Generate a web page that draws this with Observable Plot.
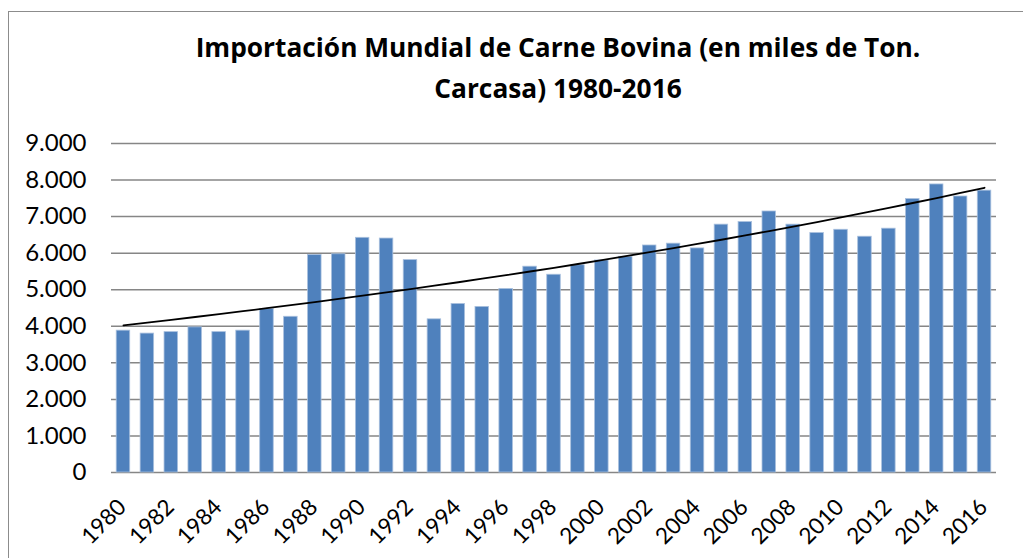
<!DOCTYPE html>
<html>
<head>
<meta charset="utf-8">
<script src="https://cdn.jsdelivr.net/npm/d3@7"></script>
<script src="https://cdn.jsdelivr.net/npm/@observablehq/plot@0.6"></script>
<style>
  html, body { margin: 0; padding: 0; background: #fff; }
  #wrap { position: relative; width: 1023px; height: 558px; overflow: hidden; font-family: Lato, "Open Sans", sans-serif; }
  #frame { position: absolute; left: 8px; top: 11px; width: 1100px; height: 700px; border: 1px solid #8c8c8c; box-sizing: border-box; }
  #title { position: absolute; left: 0; top: 27px; width: 1116px; text-align: center; font-family: "Open Sans", sans-serif; font-weight: 700; font-size: 26.3px; line-height: 41px; color: #000; }
  #chart { position: absolute; left: 0; top: 115px; }
</style>
</head>
<body>
<div id="wrap">
  <div id="frame"></div>
  <div id="title">Importación Mundial de Carne Bovina (en miles de Ton.<br>Carcasa) 1980-2016</div>
  <div id="chart"></div>
</div>
<script>
const years = d3.range(1980, 2017);
const imports = [3880, 3800, 3840, 3970, 3840, 3880, 4470, 4260, 5950, 5970, 6420, 6400, 5810,
  4190, 4610, 4530, 5020, 5630, 5410, 5670, 5800, 5900, 6210, 6260, 6130, 6780, 6850, 7140,
  6780, 6550, 6640, 6450, 6670, 7480, 7880, 7550, 7710];
const yTicks = [0, 1000, 2000, 3000, 4000, 5000, 6000, 7000, 8000, 9000];
const xTickLabels = years.filter(y => (y - 1980) % 2 === 0);

const data = years.map((year, i) => ({year, value: imports[i]}));

// Exponential trendline (least squares on ln(value)), as a spreadsheet would compute it
const xs = data.map((d, i) => i);
const ls = data.map(d => Math.log(d.value));
const mx = d3.mean(xs), ml = d3.mean(ls);
const b = d3.sum(xs, (x, i) => (x - mx) * (ls[i] - ml)) / d3.sum(xs, x => (x - mx) ** 2);
const a = ml - b * mx;
const trend = data.map((d, i) => ({year: d.year, value: Math.exp(a + b * i)}));

const fmt = v => v === 0 ? "0" : d3.format(",")(v).replace(/,/g, ".");

const chart = Plot.plot({
  width: 1023,
  height: 443,
  marginLeft: 111,
  marginRight: 27,
  marginTop: 28,
  marginBottom: 86,
  style: {fontFamily: "Lato, 'Open Sans', sans-serif", fontSize: "18px", color: "#000", background: "transparent"},
  x: {type: "band", domain: years, paddingInner: 0.435, paddingOuter: 0.2175, label: null},
  y: {domain: [0, 9000], label: null},
  marks: [
    Plot.gridY(yTicks, {stroke: "#868686", strokeOpacity: 1, strokeWidth: 1.5}),
    Plot.barY(data, {x: "year", y: "value", fill: "#4F81BD", stroke: "#a9c0de", strokeWidth: 0.8}),
    Plot.line(trend, {x: "year", y: "value", stroke: "#000", strokeWidth: 1.8}),
    Plot.axisY(yTicks, {tickSize: 0, tickPadding: 25, tickFormat: fmt, fontSize: 24, fill: "#000"}),
    Plot.axisX(xTickLabels, {tickSize: 0, tickRotate: -45, tickPadding: 31, tickFormat: d => String(d), fontSize: 22.5, fill: "#000", textAnchor: "end", dx: -1, dy: 0})
  ]
});
document.getElementById("chart").appendChild(chart);
</script>
</body>
</html>
